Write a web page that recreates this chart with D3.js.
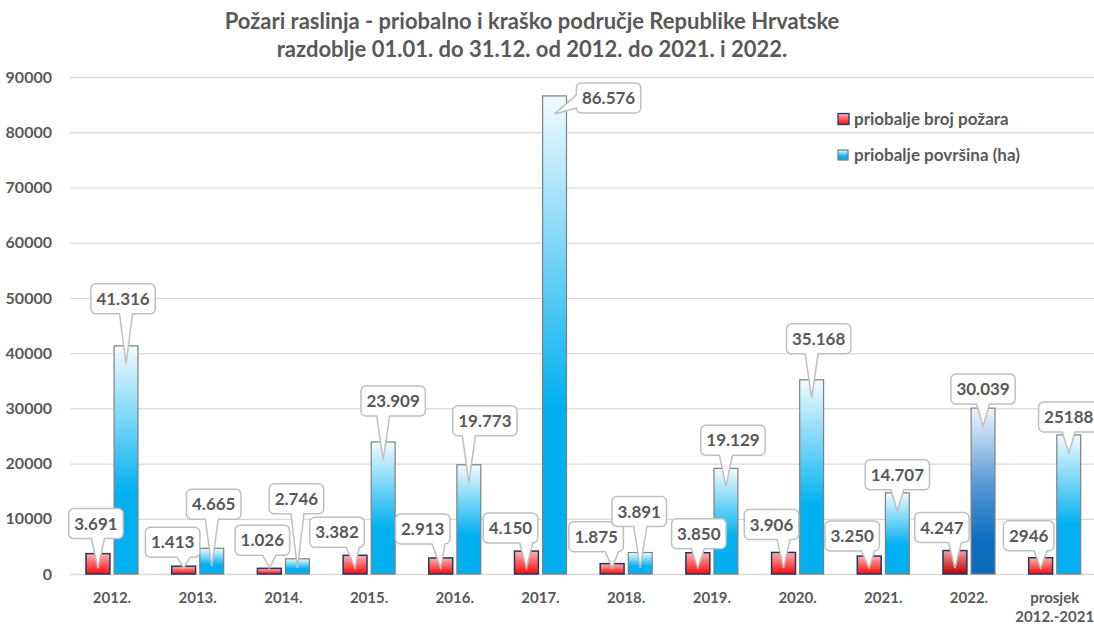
<!DOCTYPE html>
<html><head><meta charset="utf-8">
<script src="https://cdn.jsdelivr.net/npm/d3@7"></script>
<style>body{margin:0;background:#fff;} svg{display:block;font-family:Lato,'Open Sans',sans-serif;}</style>
</head><body><svg id="c" width="1094" height="626"></svg>
<script>
// ---- data ----
const titleLines = ["Požari raslinja - priobalno i kraško područje Republike Hrvatske",
                    "razdoblje 01.01. do 31.12. od 2012. do 2021. i 2022."];
const categories = ["2012.","2013.","2014.","2015.","2016.","2017.","2018.","2019.","2020.","2021.","2022.","prosjek\n2012.-2021"];
const seriesNames = ["priobalje broj požara","priobalje površina (ha)"];
const brojPozara = [3691,1413,1026,3382,2913,4150,1875,3850,3906,3250,4247,2946];
const povrsina   = [41316,4665,2746,23909,19773,86576,3891,19129,35168,14707,30039,25188];
const brojLabels = ["3.691","1.413","1.026","3.382","2.913","4.150","1.875","3.850","3.906","3.250","4.247","2946"];
const povrsinaLabels = ["41.316","4.665","2.746","23.909","19.773","86.576","3.891","19.129","35.168","14.707","30.039","25188"];
const yTicks = [0,10000,20000,30000,40000,50000,60000,70000,80000,90000];
const highlightIndex = 10;

// ---- layout (callout box offsets relative to bar top-centre) ----
const brojOffsets = [[-2,-30],[-11,-24],[-7,-28],[-18,-23],[-18,-29],[-16,-23],[-16,-27],[1,-19],[-12,-28],[-17,-20],[-13,-23],[-12,-22]];
const povOffsets  = [[-3,-47],[2,-44],[-1,-60],[10,-41],[16,-44],[54,2],[-1,-41],[7,-28],[7,-41],[0,-18],[0,-19],[0,-18]];

const W = 1094, H = 626;
const txt = "#595959";
const svg = d3.select("#c");
const defs = svg.append("defs");
function grad(id, stops){
  const g = defs.append("linearGradient").attr("id",id).attr("x1",0).attr("y1",0).attr("x2",0).attr("y2",1);
  stops.forEach(s=>g.append("stop").attr("offset",s[0]).attr("stop-color",s[1]));
}
grad("gRed",[[0,"#ffb3b3"],[1,"#ff0a0a"]]);
grad("gBlue",[[0,"#f2fbfe"],[0.65,"#00b0f0"],[1,"#00b0f0"]]);
grad("gRedH",[[0,"#f0a0a0"],[1,"#c00000"]]);
grad("gBlueH",[[0,"#eef5fc"],[0.45,"#5a9ad6"],[0.8,"#0a6fbf"],[1,"#0a6cbb"]]);

const x0 = d3.scaleBand().domain(d3.range(categories.length)).range([69.15,1097.55]);
const groupW = 52;
const x1 = d3.scaleBand().domain([0,1]).range([(x0.bandwidth()-groupW)/2,(x0.bandwidth()+groupW)/2]).paddingInner(0.15);
const y = d3.scaleLinear().domain([0,90000]).range([574,77]);

// title
svg.append("g").selectAll("text").data(titleLines).join("text")
  .attr("x",532).attr("y",(d,i)=>29+i*28).attr("text-anchor","middle")
  .attr("font-size",22).attr("font-weight",700).attr("fill",txt).text(d=>d);

// y axis + grid
svg.append("g").attr("transform","translate(70,0)")
  .call(d3.axisLeft(y).tickValues(yTicks).tickSize(-(W-70)).tickPadding(18).tickFormat(d3.format("d")))
  .call(g=>g.select(".domain").remove())
  .call(g=>g.selectAll("line").attr("stroke","#d9d9d9").attr("stroke-width",1.3))
  .call(g=>g.selectAll("text").attr("fill",txt))
  .attr("font-size",16).attr("font-family","Lato").attr("font-weight",700);

// x axis
svg.append("g").attr("transform","translate(0,574)")
  .call(d3.axisBottom(x0).tickSize(0).tickPadding(18).tickFormat(i=>categories[i]))
  .call(g=>g.select(".domain").remove())
  .attr("font-size",15).attr("font-family","Lato").attr("font-weight",700)
  .call(g=>g.selectAll("text").attr("fill",txt).each(function(i){
    const lines = categories[i].split("\n");
    if(lines.length>1){
      const t = d3.select(this); t.text(null).attr("dy",null);
      lines.forEach((l,k)=>t.append("tspan").attr("x",0).attr("dy",k===0?"0.71em":"1.3em").text(l));
    }
  }));

// bars
const bars = svg.append("g");
const series = [brojPozara, povrsina];
series.forEach((vals,s)=>{
  bars.selectAll(null).data(vals).join("rect")
    .attr("x",(d,i)=>x0(i)+x1(s)).attr("width",x1.bandwidth())
    .attr("y",d=>y(d)).attr("height",d=>y(0)-y(d))
    .attr("fill",(d,i)=> s===0 ? (i===highlightIndex?"url(#gRedH)":"url(#gRed)") : (i===highlightIndex?"url(#gBlueH)":"url(#gBlue)"))
    .attr("stroke", s===0 ? "#203864" : "#7f7f7f")
    .attr("stroke-width", s===0 ? 1.5 : 1.2);
});

// callouts
function calloutPath(x,y0,w,h,tx,ty){
  const r=5, hw=6.5;
  if(tx < x){
    const by = Math.max(y0+r+hw, Math.min(ty, y0+h-r-hw));
    return `M${x+r},${y0}H${x+w-r}A${r},${r} 0 0 1 ${x+w},${y0+r}V${y0+h-r}A${r},${r} 0 0 1 ${x+w-r},${y0+h}H${x+r}A${r},${r} 0 0 1 ${x},${y0+h-r}V${by+hw}L${tx},${ty}L${x},${by-hw}V${y0+r}A${r},${r} 0 0 1 ${x+r},${y0}Z`;
  }
  const bx = Math.max(x+r+hw, Math.min(tx, x+w-r-hw));
  return `M${x+r},${y0}H${x+w-r}A${r},${r} 0 0 1 ${x+w},${y0+r}V${y0+h-r}A${r},${r} 0 0 1 ${x+w-r},${y0+h}H${bx+hw}L${tx},${ty}L${bx-hw},${y0+h}H${x+r}A${r},${r} 0 0 1 ${x},${y0+h-r}V${y0+r}A${r},${r} 0 0 1 ${x+r},${y0}Z`;
}
const cg = svg.append("g").attr("font-size",17).attr("font-weight",700).attr("font-family","Lato");
const labelSets = [brojLabels, povrsinaLabels];
const offsetSets = [brojOffsets, povOffsets];
series.forEach((vals,s)=>{
  vals.forEach((v,i)=>{
    const cx = x0(i)+x1(s)+x1.bandwidth()/2;
    const top = y(v);
    const [dx,dy] = offsetSets[s][i];
    const bcx = cx+dx, bcy = top+dy;
    const g = cg.append("g");
    const p = g.append("path");
    const t = g.append("text").attr("x",bcx).attr("y",bcy).attr("dy","0.36em").attr("text-anchor","middle").attr("fill",txt).text(labelSets[s][i]);
    const tw = t.node().getComputedTextLength();
    const bw = tw+11, bh = 30;
    const tx = cx, ty = Math.min(top+18, y(0)-6);
    p.attr("d",calloutPath(bcx-bw/2,bcy-bh/2,bw,bh,tx,ty)).attr("fill","#fff").attr("stroke","#bfbfbf").attr("stroke-width",1.5);
  });
});

// legend
const lg = svg.append("g").attr("font-size",17).attr("font-weight",700).attr("font-family","Lato");
const legendItems = [{n:seriesNames[0],f:"url(#gRed)",s:"#203864",y:119,sz:11},{n:seriesNames[1],f:"url(#gBlue)",s:"#7f7f7f",y:155,sz:10}];
legendItems.forEach(it=>{
  lg.append("rect").attr("x",838).attr("y",it.y-it.sz/2).attr("width",it.sz).attr("height",it.sz).attr("fill",it.f).attr("stroke",it.s).attr("stroke-width",1.3);
  lg.append("text").attr("x",854).attr("y",it.y).attr("dy","0.35em").attr("fill",txt).text(it.n);
});
</script></body></html>
